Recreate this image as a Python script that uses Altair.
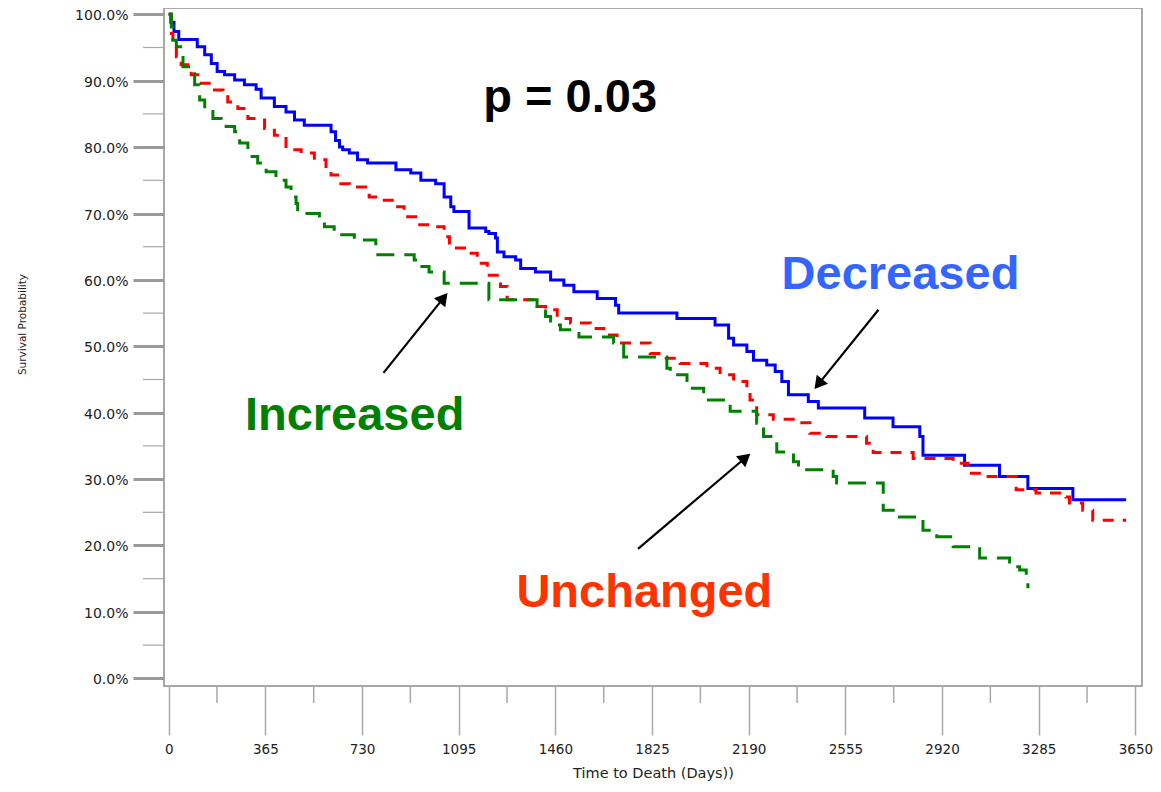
import math
import altair as alt
import pandas as pd

# ---------------- data ----------------
# Decreased (blue, solid)
dec_days = [0, 8, 20, 38, 108, 136, 161, 183, 211, 249, 286, 330, 349, 399, 443, 475, 512,
            613, 630, 645, 657, 682, 713, 751, 858, 914, 952, 1008, 1040, 1065, 1077, 1134,
            1197, 1209, 1234, 1241, 1266, 1310, 1329, 1385, 1442, 1492, 1530, 1618, 1687, 1699,
            1919, 2063, 2114, 2133, 2183, 2208, 2258, 2290, 2315, 2340, 2415, 2453, 2628, 2735,
            2836, 2848, 3005, 3137, 3244, 3414, 3615]
dec_surv = [100, 98.8, 97.4, 96.2, 95.1, 93.9, 92.6, 91.4, 90.9, 90.1, 89.4, 88.7, 87.4, 86.1, 85.3, 84.1, 83.3,
            82.3, 81.0, 80.0, 79.6, 79.1, 78.1, 77.6, 76.6, 76.1, 75.0, 74.5, 72.5, 71.0, 70.3, 67.8,
            67.3, 67.0, 66.3, 64.2, 63.5, 63.0, 61.7, 61.2, 60.0, 59.2, 58.2, 57.2, 56.2, 55.0,
            54.2, 53.2, 51.2, 50.2, 49.2, 47.9, 47.2, 46.2, 44.7, 42.7, 41.7, 40.7, 39.2, 37.9,
            36.4, 33.6, 32.1, 30.4, 28.6, 26.9, 26.9]

# Unchanged (red, short dashes)
unc_days = [0, 10, 16, 29, 47, 85, 123, 167, 205, 223, 261, 299, 336, 362, 399, 431, 443, 500,
            550, 594, 613, 644, 682, 757, 814, 852, 889, 939, 1002, 1040, 1060, 1128, 1165, 1203,
            1253, 1278, 1391, 1423, 1467, 1517, 1592, 1643, 1693, 1818, 1869, 1931, 2032, 2082,
            2133, 2183, 2195, 2220, 2283, 2371, 2421, 2484, 2635, 2660, 2811, 2962, 3018, 3075,
            3200, 3275, 3388, 3401, 3451, 3489, 3615]
unc_surv = [100, 97.1, 94.9, 93.6, 92.4, 90.9, 89.6, 88.6, 88.1, 86.8, 85.8, 84.3, 84.1, 82.8, 81.8, 81.3, 79.6, 79.1,
            78.1, 76.8, 75.8, 74.5, 74.0, 72.5, 72.0, 71.0, 69.5, 68.3, 68.0, 66.5, 64.8, 64.0, 62.5, 60.7,
            59.0, 57.0, 56.0, 55.5, 54.2, 53.5, 52.7, 51.7, 50.5, 48.9, 48.2, 47.4, 46.7, 45.7,
            44.7, 43.4, 41.9, 39.7, 39.0, 38.5, 36.9, 36.4, 35.4, 34.0, 33.1, 32.4, 30.9, 30.4,
            28.4, 27.9, 27.3, 26.4, 25.3, 23.8, 23.8]

# Increased (green, long dashes)
inc_days = [0, 10, 16, 29, 54, 85, 98, 117, 136, 167, 198, 217, 249, 268, 299, 336, 368, 405,
            443, 462, 481, 487, 569, 588, 625, 701, 782, 927, 939, 983, 1040, 1209, 1391, 1423,
            1442, 1479, 1549, 1680, 1718, 1881, 1894, 1957, 2020, 2120, 2220, 2246, 2290, 2296,
            2359, 2378, 2509, 2522, 2698, 2748, 2848, 2900, 2962, 3062, 3175, 3213, 3238, 3244, 3250]
inc_surv = [100, 98.1, 96.1, 95.1, 92.1, 91.4, 89.4, 87.1, 85.6, 84.3, 83.8, 83.1, 82.3, 80.6, 78.6, 77.6, 76.3, 75.0,
            74.0, 72.5, 71.5, 70.0, 69.0, 68.0, 66.8, 66.0, 63.8, 63.0, 62.0, 61.2, 59.5, 57.0, 56.0, 54.5,
            53.2, 52.5, 51.4, 50.5, 48.4, 46.7, 45.7, 43.7, 41.9, 40.2, 38.4, 36.4, 35.9, 34.1,
            32.6, 31.4, 30.4, 29.4, 25.3, 24.3, 22.3, 21.3, 19.8, 18.1, 16.8, 16.3, 15.1, 13.8, 13.8]

# axis ticks
x_ticks = [0, 365, 730, 1095, 1460, 1825, 2190, 2555, 2920, 3285, 3650]
x_minor = [182.5, 547.5, 912.5, 1277.5, 1642.5, 2007.5, 2372.5, 2737.5, 3102.5, 3467.5]
y_ticks = [0.0, 0.1, 0.2, 0.3, 0.4, 0.5, 0.6, 0.7, 0.8, 0.9, 1.0]
y_minor = [0.05, 0.15, 0.25, 0.35, 0.45, 0.55, 0.65, 0.75, 0.85, 0.95]

# annotations
ann_text = ["p = 0.03", "Decreased", "Increased", "Unchanged"]
ann_day = [1516, 2763, 702, 1796]
ann_surv = [85.3, 58.6, 37.4, 10.7]
ann_color = ["#000000", "#3366FF", "#008000", "#FF3300"]

arrow_day0 = [811, 2680, 1772]
arrow_surv0 = [46.0, 55.5, 19.5]
arrow_day1 = [1052, 2439, 2195]
arrow_surv1 = [58.0, 43.6, 33.8]

# ---------------- chart ----------------
X_DOMAIN = [-17.7, 3675]
Y_DOMAIN = [-0.0116, 1.0095]
W, H = 978, 678
LEFT = 156
kx = W / (X_DOMAIN[1] - X_DOMAIN[0])
ky = H / (Y_DOMAIN[1] - Y_DOMAIN[0])

xs = alt.Scale(domain=X_DOMAIN, nice=False, zero=False)
ys = alt.Scale(domain=Y_DOMAIN, nice=False, zero=False)

FONT = "DejaVu Sans"

x_axis = alt.Axis(values=x_ticks, format="d", tickSize=49, tickWidth=1.5, tickColor="#a8a8a8",
                  domain=False, grid=False, labelFont=FONT, labelFontSize=13.5, labelColor="#222222",
                  labelPadding=7, labelOverlap=False, labelFlush=False,
                  title="Time to Death (Days))", titleFont=FONT, titleFontSize=14.5,
                  titleFontWeight="normal", titleColor="#222222",
                  titleX=489, titleY=87, titleBaseline="middle", titleAlign="center")
y_axis = alt.Axis(values=y_ticks, format=".1%", tickSize=31, tickWidth=3, tickColor="#9a9a9a",
                  domain=False, grid=False, labelFont=FONT, labelFontSize=14, labelColor="#222222",
                  labelPadding=5, labelOffset=1.5, labelOverlap=False, labelFlush=False,
                  title="Survival Probability", titleFont=FONT, titleFontSize=10.5,
                  titleFontWeight="normal", titleColor="#222222",
                  titleX=22 - (LEFT + 8), titleY=316, titleAngle=270, titleBaseline="middle",
                  titleAlign="center")


def X(field):
    return alt.X(field, type="quantitative", scale=xs, axis=x_axis)


def Y(field):
    return alt.Y(field, type="quantitative", scale=ys, axis=y_axis)


def curve(days, surv):
    assert len(days) == len(surv)
    return pd.DataFrame({"t": days, "s": [v / 100 for v in surv]})


def line_layer(df, color, dash):
    return alt.Chart(df).mark_line(interpolate="step-after", color=color, strokeWidth=3,
                                   strokeDash=dash, strokeCap="butt").encode(x=X("t"), y=Y("s"))


blue = line_layer(curve(dec_days, dec_surv), "#0000FF", [1, 0])
red = line_layer(curve(unc_days, unc_surv), "#FF0000", [11, 9])
green = line_layer(curve(inc_days, inc_surv), "#008000", [18, 10])

ymin_df = pd.DataFrame({"s": y_minor})
y_minor_layer = alt.Chart(ymin_df).mark_rule(color="#a8a8a8", strokeWidth=1.2).encode(
    y=Y("s"), x=alt.value(-21), x2=alt.value(0))

xmin_df = pd.DataFrame({"t": x_minor})
x_minor_layer = alt.Chart(xmin_df).mark_rule(color="#a8a8a8", strokeWidth=1.5).encode(
    x=X("t"), y=alt.value(H + 1), y2=alt.value(H + 17))

ann_df = pd.DataFrame({"text": ann_text, "t": ann_day,
                       "s": [v / 100 for v in ann_surv], "c": ann_color})
ann_layer = alt.Chart(ann_df).mark_text(font="Liberation Sans", fontWeight="bold", fontSize=47,
                                        align="center", baseline="alphabetic").encode(
    x=X("t"), y=Y("s"), text="text:N", color=alt.Color("c:N", scale=None))

# arrows
rows = []
for d0, s0, d1, s1 in zip(arrow_day0, arrow_surv0, arrow_day1, arrow_surv1):
    y0, y1 = s0 / 100, s1 / 100
    dx = (d1 - d0) * kx
    dy = -(y1 - y0) * ky
    ln = math.hypot(dx, dy)
    ux, uy = dx / ln, dy / ln
    ang = math.degrees(math.atan2(dx, -dy)) % 360
    back = 6.0
    rows.append({"t": d0, "s": y0, "t1": d1 - back * ux / kx, "s1": y1 + back * uy / ky,
                 "ht": d1 - back * ux / kx, "hs": y1 + back * uy / ky, "ang": ang})
arr_df = pd.DataFrame(rows)

arrow_lines = alt.Chart(arr_df).mark_rule(color="black", strokeWidth=2.2).encode(
    x=X("t"), y=Y("s"), x2="t1:Q", y2="s1:Q")
arrow_heads = alt.Chart(arr_df).mark_point(shape="triangle-up", filled=True, color="black",
                                           opacity=1, size=210, strokeWidth=0).encode(
    x=X("ht"), y=Y("hs"), angle=alt.Angle("ang:Q", scale=None))

chart = alt.layer(
    blue, red, green, y_minor_layer, x_minor_layer, ann_layer, arrow_lines, arrow_heads
).properties(
    width=W, height=H,
    autosize=alt.AutoSizeParams(type="none"),
    padding={"left": LEFT, "top": 0, "right": 11, "bottom": 98},
    background="white",
).configure_view(stroke="#a8a8a8", strokeWidth=2)

chart.save("out.html", embed_options={"renderer": "svg", "actions": False})
